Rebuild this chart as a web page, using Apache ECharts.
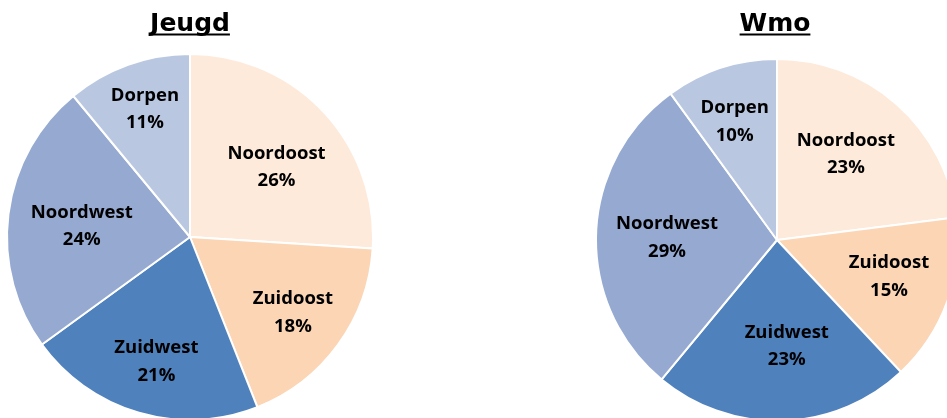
<!DOCTYPE html>
<html>
<head>
<meta charset="utf-8">
<script src="https://cdn.jsdelivr.net/npm/echarts@6/dist/echarts.min.js"></script>
<style>
  html, body { margin: 0; padding: 0; background: #fff; }
  #chart { width: 947px; height: 418px; }
</style>
</head>
<body>
<div id="chart"></div>
<script>
// data
const regions = ['Noordoost', 'Zuidoost', 'Zuidwest', 'Noordwest', 'Dorpen'];
const jeugdValues = [26, 18, 21, 24, 11];
const wmoValues = [23, 15, 23, 29, 10];
const titles = ['Jeugd', 'Wmo'];

const colors = ['#FDEADA', '#FBD5B4', '#4F81BD', '#95A9D1', '#B9C7E1'];
const titleFont = '"DejaVu Sans", Verdana, sans-serif';
const labelFont = '"Open Sans", "Noto Sans", sans-serif';

const chart = echarts.init(document.getElementById('chart'));

// breedte van titel meten voor de onderstreping
const ctx = document.createElement('canvas').getContext('2d');
ctx.font = 'bold 25px ' + titleFont;
const textW = t => ctx.measureText(t).width;

// labelRatio: afstand label tot middelpunt (deel van de straal), labelTurn: kleine hoekcorrectie in graden
const pies = [
  { values: jeugdValues, center: [190, 237], r: 183, titleX: 190,
    labelRatio: [0.61, 0.695, 0.70, 0.595, 0.745], labelTurn: [4, 0, -1, -1, 0.5] },
  { values: wmoValues, center: [777, 240], r: 181, titleX: 775,
    labelRatio: [0.613, 0.65, 0.583, 0.608, 0.70], labelTurn: [-3, -2, -3.5, 0, -1.5] }
];

const series = pies.map(p => {
  const total = p.values.reduce((a, b) => a + b, 0);
  // middenhoek van elk stuk (met de klok mee vanaf 12 uur)
  const mids = [];
  let acc = 0;
  p.values.forEach(v => { mids.push((acc + v / 2) / total * Math.PI * 2); acc += v; });

  return {
    type: 'pie',
    center: p.center,
    radius: [0, p.r],
    startAngle: 90,
    clockwise: true,
    animation: false,
    silent: true,
    itemStyle: { borderColor: '#fff', borderWidth: 2 },
    label: {
      show: true,
      position: 'inside',
      formatter: '{b}\n{c}%',
      color: '#000',
      fontFamily: labelFont,
      fontWeight: 'bold',
      fontSize: 18.5,
      lineHeight: 27.5
    },
    labelLine: { show: false },
    labelLayout: params => {
      const i = params.dataIndex;
      const d = p.r * p.labelRatio[i];
      const a = mids[i] + p.labelTurn[i] * Math.PI / 180;
      return {
        x: p.center[0] + Math.sin(a) * d,
        y: p.center[1] - Math.cos(a) * d + 1,
        align: 'center',
        verticalAlign: 'middle'
      };
    },
    data: regions.map((name, i) => ({
      name: name, value: p.values[i], itemStyle: { color: colors[i] }
    }))
  };
});

const graphics = [];
pies.forEach((p, i) => {
  graphics.push({
    type: 'text',
    x: p.titleX,
    y: 24,
    style: {
      text: titles[i],
      fill: '#000',
      font: 'bold 25px ' + titleFont,
      textAlign: 'center',
      textVerticalAlign: 'middle'
    }
  });
  graphics.push({
    type: 'rect',
    shape: { x: p.titleX - textW(titles[i]) / 2, y: 33.5, width: textW(titles[i]), height: 2 },
    style: { fill: '#000' }
  });
});

chart.setOption({
  backgroundColor: '#fff',
  graphic: graphics,
  series: series
});
</script>
</body>
</html>
